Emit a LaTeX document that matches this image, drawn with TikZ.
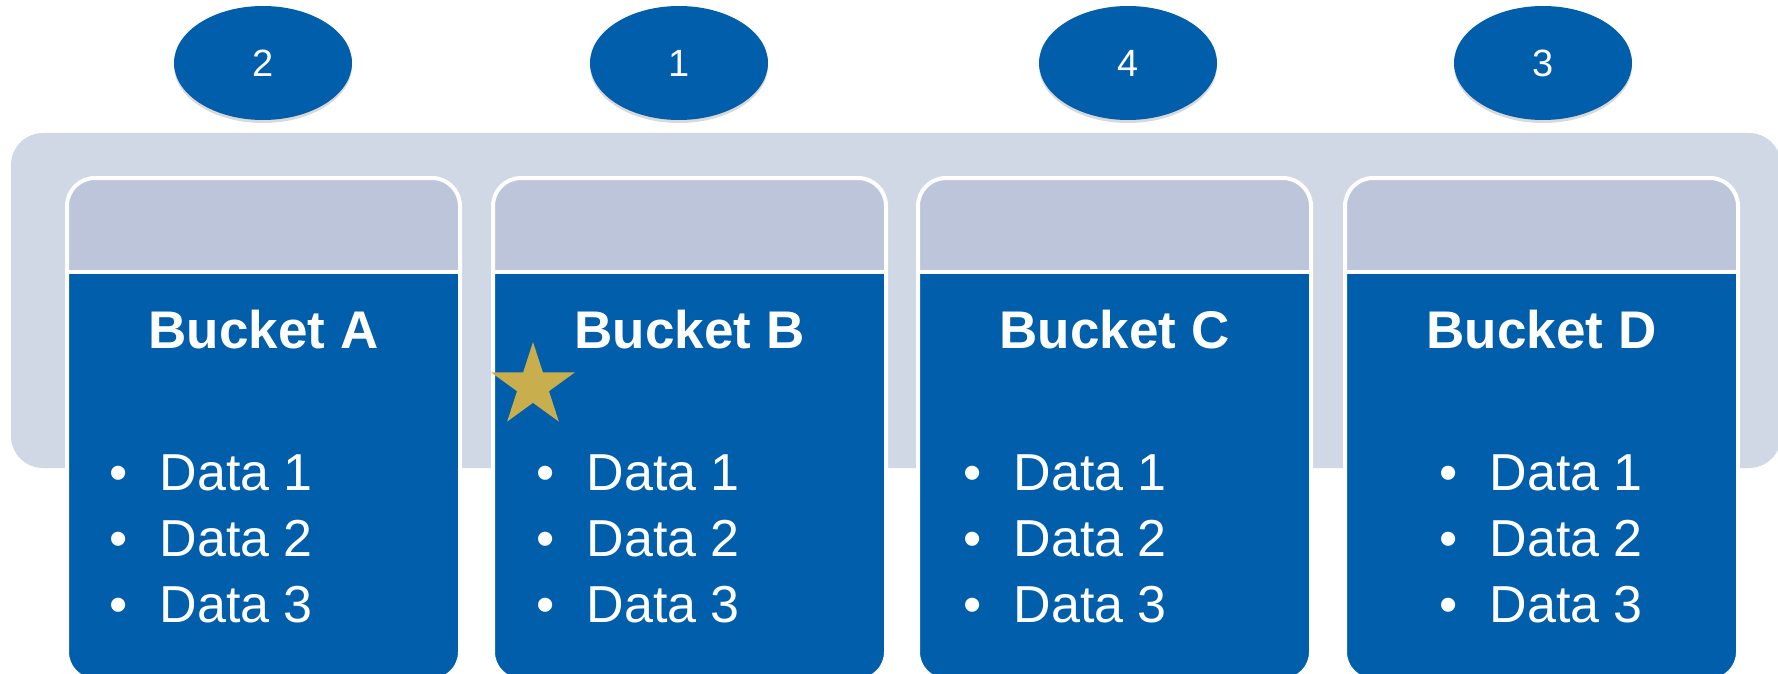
\documentclass[tikz,border=0pt]{standalone}
\usepackage{fontspec}
\setmainfont{Liberation Sans}
\usetikzlibrary{shapes.geometric,shadows}
\definecolor{bktblue}{RGB}{0,94,170}
\definecolor{bkthead}{RGB}{188,197,217}
\definecolor{bktband}{RGB}{208,215,229}
\definecolor{bktgold}{RGB}{201,174,77}

\begin{document}
\begin{tikzpicture}[x=0.5pt,y=0.5pt,yscale=-1,xscale=1,
  ordernum/.style={ellipse,fill=bktblue,minimum width=89pt,minimum height=57pt,inner sep=0pt,
    text=white,font=\fontsize{19}{19}\selectfont,
    drop shadow={opacity=0.3,shadow xshift=0pt,shadow yshift=-1.5pt}},
  bkttitle/.style={anchor=base,inner sep=0pt,text=white,font=\bfseries\fontsize{26.5}{30}\selectfont},
  bktdata/.style={anchor=base west,inner sep=0pt,text=white,font=\fontsize{26}{33}\selectfont}]
\clip (0,0) rectangle (1778,674);

%Shape: Rounded Rectangle (band)
\fill [bktband, rounded corners=16pt] (11,133) rectangle (1781,468);

%Shape: Buckets
\foreach \bx/\lt/\dx in {67/A/118,493/B/545,918/C/972,1345/D/1448}{
  \begin{scope}
    \clip [rounded corners=14pt] (\bx,178) rectangle ++(393,502);
    \fill [bktblue] (\bx,178) rectangle ++(393,502);
    \fill [bkthead] (\bx,178) rectangle ++(393,94);
  \end{scope}
  \draw [white, line width=2pt, rounded corners=14pt] (\bx,178) rectangle ++(393,502);
  \draw [white, line width=2pt] (\bx,272) -- ++(393,0);
  % Text Node
  \node [bkttitle] (title\lt) at (\bx+196.5,348) {Bucket \lt};
  % Text Node
  \node [bktdata] (data\lt) at (\dx-9,490) {\begin{tabular}[t]{@{}l@{\hspace{16pt}}l@{}}
    \textbullet & Data 1\\ \textbullet & Data 2\\ \textbullet & Data 3\end{tabular}};
}

%Shape: Ellipses
\node [ordernum] (ordA) at (263,63) {2};
\node [ordernum] (ordB) at (679,63) {1};
\node [ordernum] (ordC) at (1128,63) {4};
\node [ordernum] (ordD) at (1543,63) {3};

%Shape: Star
\node [star,star points=5,star point ratio=2.618,fill=bktgold,minimum size=44pt,inner sep=0pt] (starB) at (533,386) {};

\end{tikzpicture}
\end{document}
